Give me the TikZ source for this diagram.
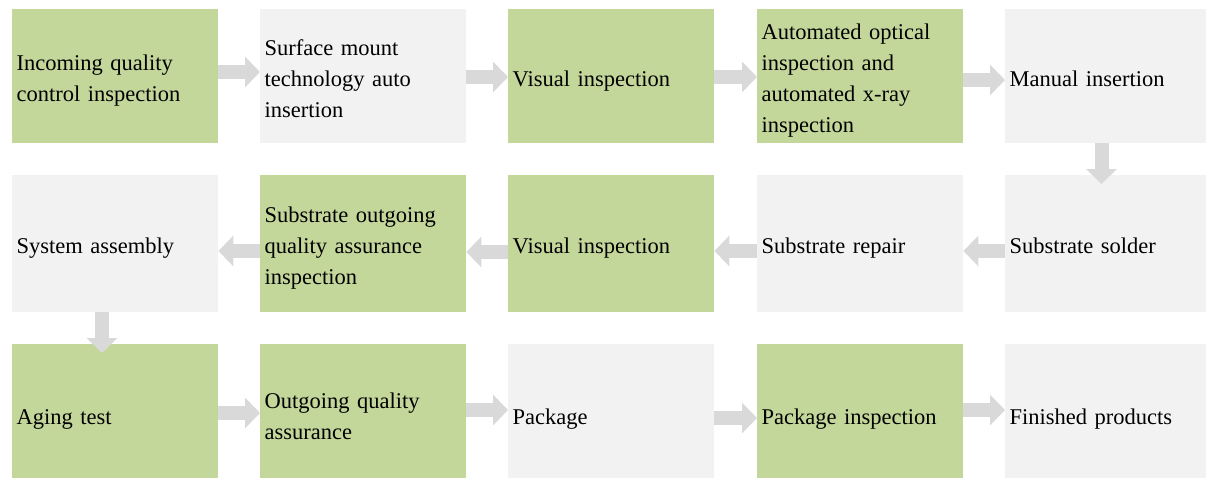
\documentclass[tikz,border=0pt]{standalone}
\usepackage{fontspec}
\setmainfont{Liberation Serif}
\usetikzlibrary{arrows.meta}
\definecolor{boxgreen}{HTML}{C4D79B}
\definecolor{boxgrey}{HTML}{F2F2F2}
\definecolor{arrgrey}{HTML}{D9D9D9}
\tikzset{
  stepbox/.style={anchor=north west, text width=197pt, inner xsep=4.5pt, inner ysep=0pt,
    minimum height=134pt, align=left, font=\fontsize{22.5}{31}\selectfont, text=black,
    execute at begin node={\rule{0pt}{26.5pt}},
    execute at end node={\rule[-6pt]{0pt}{0pt}}},
  gbox/.style={stepbox, fill=boxgreen},
  wbox/.style={stepbox, fill=boxgrey},
  tallbox/.style={minimum height=137pt},
  lowbox/.style={minimum height=140pt},
  blockarrow/.style={draw=arrgrey, line width=14pt, -{Triangle[length=15pt,width=30pt,fill=arrgrey]}}
}
\begin{document}
\begin{tikzpicture}[x=1pt,y=-1pt]
\useasboundingbox (0,0) rectangle (1206,477);
\clip (0,0) rectangle (1206,477);
% row 1
\node[gbox] (a1) at (12,9) {Incoming quality\\control inspection};
\node[wbox] (a2) at (260,9) {Surface mount\\technology auto\\insertion};
\node[gbox] (a3) at (508,9) {Visual inspection};
\node[gbox] (a4) at (757,9) {Automated optical\\inspection and\\automated x-ray\\inspection};
\node[wbox] (a5) at (1005,9) {Manual insertion};
% row 2
\node[wbox, tallbox] (b1) at (12,175) {System assembly};
\node[gbox, tallbox] (b2) at (260,175) {Substrate outgoing\\quality assurance\\inspection};
\node[gbox, tallbox] (b3) at (508,175) {Visual inspection};
\node[wbox, tallbox] (b4) at (757,175) {Substrate repair};
\node[wbox, tallbox] (b5) at (1005,175) {Substrate solder};
% row 3
\node[gbox, lowbox] (c1) at (12,344) {Aging test};
\node[gbox, lowbox] (c2) at (260,344) {Outgoing quality\\assurance};
\node[wbox, lowbox] (c3) at (508,344) {Package};
\node[gbox, lowbox] (c4) at (757,344) {Package inspection};
\node[wbox, lowbox] (c5) at (1005,344) {Finished products};
% arrows row 1
\draw[blockarrow] (a1.east |- 0,72) -- (a2.west |- 0,72);
\draw[blockarrow] (a2.east |- 0,77) -- (a3.west |- 0,77);
\draw[blockarrow] (a3.east |- 0,77) -- (a4.west |- 0,77);
\draw[blockarrow] (a4.east |- 0,80) -- (a5.west |- 0,80);
% down
\draw[blockarrow] (a5.south -| 1101.5,0) -- ([yshift=-9pt]b5.north -| 1101.5,0);
% arrows row 2
\draw[blockarrow] (b5.west |- 0,251) -- (b4.east |- 0,251);
\draw[blockarrow] (b4.west |- 0,251) -- (b3.east |- 0,251);
\draw[blockarrow] (b3.west |- 0,252) -- (b2.east |- 0,252);
\draw[blockarrow] (b2.west |- 0,251) -- (b1.east |- 0,251);
% down
\draw[blockarrow] (b1.south -| 102,0) -- ([yshift=-9pt]c1.north -| 102,0);
% arrows row 3
\draw[blockarrow] (c1.east |- 0,413) -- (c2.west |- 0,413);
\draw[blockarrow] (c2.east |- 0,410) -- (c3.west |- 0,410);
\draw[blockarrow] (c3.east |- 0,418) -- (c4.west |- 0,418);
\draw[blockarrow] (c4.east |- 0,410) -- (c5.west |- 0,410);
\end{tikzpicture}
\end{document}
